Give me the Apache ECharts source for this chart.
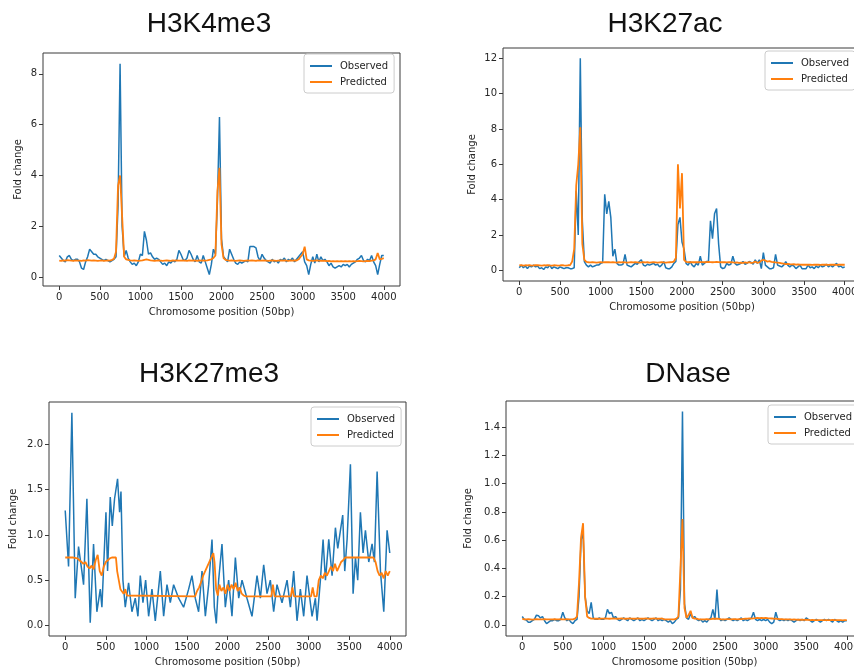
<!DOCTYPE html>
<html>
<head>
<meta charset="utf-8">
<script src="https://cdn.jsdelivr.net/npm/echarts@6/dist/echarts.min.js"></script>
<style>
html,body{margin:0;padding:0;background:#fff;}
#chart{width:854px;height:670px;}
</style>
</head>
<body>
<div id="chart"></div>
<script>
// ---------------- DATA ----------------
const TITLES = ['H3K4me3', 'H3K27ac', 'H3K27me3', 'DNase'];
const SERIES_NAMES = ['Observed', 'Predicted'];
const X_TICKS = [0, 500, 1000, 1500, 2000, 2500, 3000, 3500, 4000];
const Y_TICKS_H3K4ME3 = [0, 2, 4, 6, 8];
const Y_TICKS_H3K27AC = [0, 2, 4, 6, 8, 10, 12];
const Y_TICKS_H3K27ME3 = [0, 0.5, 1.0, 1.5, 2.0];
const Y_TICKS_DNASE = [0, 0.2, 0.4, 0.6, 0.8, 1.0, 1.2, 1.4];
const BIN_STEP = 25; // positions sampled every 25 bins: 0,25,...,4000

// H3K4me3 (positions 0..4000 step 25)
const h3k4me3Observed = [
0.85,0.75,0.65,0.6,0.8,0.85,0.7,0.65,0.7,0.7,
0.6,0.35,0.3,0.6,0.8,1.1,1.0,0.9,0.9,0.8,
0.75,0.7,0.65,0.7,0.65,0.6,0.65,0.7,0.8,2.8,
8.4,2.0,0.8,1.05,0.75,0.6,0.5,0.55,0.45,0.6,
0.9,0.85,1.8,1.45,0.9,0.95,0.8,0.7,0.75,0.7,
0.6,0.5,0.55,0.45,0.6,0.55,0.65,0.6,0.7,1.05,
0.9,0.7,0.65,0.75,1.05,0.9,0.7,0.6,0.85,0.6,
0.55,0.85,0.6,0.35,0.1,0.5,1.1,0.9,3.0,6.3,
1.5,0.8,0.7,0.6,1.1,0.9,0.7,0.55,0.5,0.6,
0.55,0.6,0.65,0.6,1.2,1.2,1.2,1.15,0.8,0.65,
0.9,0.75,0.65,0.6,0.55,0.7,0.6,0.65,0.55,0.7,
0.65,0.75,0.6,0.7,0.65,0.75,0.6,0.7,0.8,0.9,
1.0,0.6,0.45,0.1,0.5,0.8,0.55,0.9,0.6,0.8,
0.65,0.7,0.6,0.45,0.55,0.4,0.35,0.4,0.45,0.4,
0.5,0.45,0.5,0.4,0.5,0.55,0.6,0.7,0.75,0.85,
0.65,0.6,0.7,0.65,0.85,0.6,0.45,0.1,0.5,0.85,
0.85];
const h3k4me3Predicted = [
0.65,0.64,0.66,0.65,0.67,0.66,0.65,0.64,0.66,0.65,
0.65,0.64,0.66,0.65,0.67,0.66,0.65,0.66,0.65,0.64,
0.65,0.66,0.64,0.65,0.66,0.65,0.68,0.72,1.0,3.6,
4.0,2.4,0.8,0.7,0.68,0.66,0.65,0.66,0.65,0.64,
0.65,0.66,0.68,0.7,0.68,0.66,0.65,0.64,0.65,0.66,
0.65,0.64,0.65,0.66,0.65,0.64,0.66,0.65,0.66,0.65,
0.65,0.66,0.65,0.64,0.66,0.65,0.66,0.65,0.64,0.66,
0.65,0.66,0.65,0.66,0.68,0.7,0.75,0.85,3.4,4.3,
1.3,0.75,0.68,0.66,0.65,0.66,0.65,0.64,0.65,0.66,
0.65,0.64,0.65,0.66,0.65,0.66,0.65,0.64,0.66,0.65,
0.65,0.66,0.65,0.64,0.65,0.66,0.65,0.64,0.65,0.66,
0.65,0.66,0.65,0.64,0.66,0.65,0.66,0.65,0.7,0.8,
0.9,1.2,0.7,0.66,0.65,0.64,0.65,0.66,0.65,0.64,
0.65,0.64,0.63,0.64,0.62,0.63,0.62,0.63,0.62,0.63,
0.62,0.63,0.62,0.63,0.62,0.63,0.62,0.63,0.64,0.63,
0.62,0.63,0.64,0.63,0.65,0.66,0.7,0.95,0.7,0.72,
0.75];

// H3K27ac (positions 0..4000 step 25)
const h3k27acObserved = [
0.15,0.3,0.15,0.25,0.1,0.25,0.2,0.3,0.2,0.25,
0.1,0.15,0.05,0.2,0.15,0.3,0.1,0.2,0.15,0.1,
0.2,0.15,0.1,0.15,0.15,0.1,0.1,0.15,4.5,2.0,
12.0,2.8,0.5,0.3,0.2,0.3,0.2,0.25,0.3,0.3,
0.4,0.45,4.3,3.2,3.9,3.0,0.8,1.2,0.4,0.3,
0.3,0.35,0.9,0.3,0.25,0.2,0.3,0.4,0.35,0.5,
0.6,0.3,0.25,0.35,0.3,0.35,0.4,0.3,0.35,0.2,
0.3,0.5,0.15,0.1,0.1,0.2,0.4,0.5,2.6,3.0,
1.6,1.2,0.4,0.3,0.5,0.3,0.2,0.4,0.3,0.8,
0.3,0.4,0.5,0.5,2.8,1.8,3.2,3.5,1.5,0.2,
0.1,0.15,0.4,0.3,0.35,0.8,0.4,0.3,0.35,0.4,
0.5,0.35,0.4,0.5,0.45,0.35,0.6,0.4,0.6,0.1,
1.0,0.3,0.2,0.1,0.1,0.15,0.9,0.3,0.25,0.2,
0.3,0.5,0.3,0.2,0.3,0.25,0.1,0.2,0.3,0.1,
0.1,0.1,0.3,0.15,0.2,0.1,0.25,0.15,0.3,0.2,
0.25,0.35,0.2,0.3,0.2,0.3,0.4,0.2,0.25,0.15,
0.2];
const h3k27acPredicted = [
0.28,0.3,0.27,0.29,0.28,0.3,0.27,0.28,0.3,0.29,
0.28,0.27,0.29,0.28,0.3,0.28,0.27,0.29,0.28,0.27,
0.28,0.3,0.28,0.27,0.29,0.3,0.5,1.2,4.8,6.0,
8.1,1.5,0.6,0.48,0.46,0.45,0.46,0.45,0.44,0.45,
0.46,0.45,0.46,0.47,0.46,0.45,0.46,0.45,0.44,0.46,
0.45,0.46,0.45,0.44,0.45,0.46,0.45,0.46,0.45,0.44,
0.45,0.46,0.45,0.46,0.44,0.45,0.46,0.45,0.44,0.45,
0.46,0.45,0.44,0.45,0.46,0.47,0.5,0.7,6.0,3.5,
5.5,0.6,0.48,0.47,0.46,0.47,0.46,0.47,0.46,0.47,
0.47,0.46,0.47,0.48,0.47,0.46,0.47,0.48,0.47,0.46,
0.47,0.46,0.45,0.46,0.47,0.45,0.44,0.45,0.43,0.44,
0.42,0.45,0.43,0.47,0.42,0.44,0.5,0.43,0.45,0.55,
0.6,0.55,0.5,0.52,0.48,0.47,0.45,0.44,0.42,0.4,
0.38,0.36,0.37,0.35,0.34,0.35,0.33,0.34,0.33,0.32,
0.33,0.32,0.33,0.32,0.31,0.32,0.33,0.32,0.31,0.32,
0.33,0.32,0.31,0.32,0.33,0.32,0.31,0.32,0.33,0.32,
0.32];

// H3K27me3 (irregular positions, traced)
const h3k27me3ObservedPos = [
0,41,82,123,164,205,226,267,308,349,390,432,452,502,522,555,580,608,645,670,
687,711,740,781,822,863,896,925,958,991,1028,1069,1110,1172,1213,1254,1295,1336,1398,1459,
1521,1562,1603,1644,1686,1727,1768,1809,1838,1862,1891,1932,1973,2014,2055,2097,2138,2179,2240,2302,
2364,2405,2446,2487,2528,2569,2610,2672,2734,2775,2816,2857,2898,2939,2980,3042,3083,3104,3145,3178,
3207,3248,3289,3330,3359,3392,3420,3445,3474,3515,3548,3577,3605,3638,3671,3700,3741,3782,3811,3844,
3885,3926,3967,4000];
const h3k27me3Observed = [
1.27,0.65,2.35,0.3,0.87,0.6,0.45,1.4,0.03,0.9,0.15,0.4,0.2,1.25,0.6,1.42,1.1,1.4,1.62,1.25,
1.48,0.5,0.2,0.47,0.15,0.3,0.1,0.55,0.25,0.5,0.1,0.4,0.05,0.6,0.1,0.45,0.25,0.45,0.3,0.2,
0.4,0.55,0.3,0.15,0.6,0.1,0.45,0.95,0.2,0.02,0.5,0.9,0.2,0.5,0.1,0.75,0.3,0.5,0.3,0.1,
0.55,0.3,0.67,0.35,0.5,0.15,0.45,0.25,0.5,0.2,0.6,0.05,0.4,0.1,0.55,0.1,0.3,0.05,0.5,0.95,
0.5,0.95,0.55,1.08,0.85,1.05,1.22,0.6,0.95,1.78,0.35,0.75,0.5,1.25,0.8,1.05,0.7,0.9,0.7,1.7,
0.6,0.15,1.05,0.8];
const h3k27me3PredictedPos = [
0,50,100,150,175,200,225,250,275,300,325,350,375,400,425,450,475,500,525,550,
575,600,625,640,660,680,700,720,740,760,780,1600,1625,1650,1675,1700,1725,1750,1775,1800,
1825,1840,1860,1880,1900,1925,1950,1975,2000,2025,2050,2075,2100,2125,2150,2175,2200,2225,2540,2560,
2580,2780,2800,2820,3030,3050,3070,3100,3125,3150,3175,3200,3225,3250,3275,3300,3325,3350,3375,3400,
3425,3450,3800,3825,3850,3875,3900,3925,3950,3975,4000];
const h3k27me3Predicted = [
0.75,0.75,0.75,0.74,0.72,0.7,0.68,0.7,0.65,0.63,0.66,0.62,0.72,0.78,0.6,0.55,0.65,0.7,0.72,0.74,
0.75,0.75,0.75,0.6,0.5,0.4,0.38,0.35,0.4,0.33,0.32,0.32,0.38,0.42,0.48,0.55,0.6,0.65,0.7,0.75,
0.8,0.7,0.4,0.33,0.45,0.38,0.42,0.35,0.45,0.38,0.45,0.4,0.47,0.38,0.42,0.35,0.33,0.32,0.32,0.45,
0.32,0.32,0.42,0.32,0.32,0.42,0.32,0.32,0.5,0.55,0.52,0.58,0.55,0.6,0.65,0.6,0.68,0.6,0.65,0.7,
0.72,0.75,0.75,0.7,0.6,0.55,0.58,0.52,0.6,0.55,0.6];

// DNase (positions 0..4000 step 25)
const dnaseObserved = [
0.06,0.04,0.035,0.02,0.02,0.03,0.04,0.07,0.065,0.05,
0.06,0.03,0.01,0.02,0.03,0.03,0.04,0.03,0.03,0.04,
0.09,0.05,0.03,0.04,0.02,0.01,0.03,0.04,0.2,0.6,
0.65,0.2,0.1,0.08,0.16,0.05,0.04,0.04,0.05,0.04,
0.04,0.05,0.11,0.08,0.09,0.05,0.06,0.04,0.03,0.04,
0.05,0.04,0.03,0.05,0.04,0.03,0.04,0.05,0.03,0.04,
0.03,0.04,0.05,0.04,0.03,0.04,0.05,0.03,0.04,0.03,
0.04,0.03,0.02,0.03,0.01,0.02,0.04,0.05,0.25,1.51,
0.15,0.05,0.04,0.08,0.05,0.06,0.04,0.03,0.04,0.02,
0.03,0.02,0.04,0.05,0.11,0.04,0.25,0.05,0.03,0.04,
0.03,0.04,0.05,0.04,0.03,0.04,0.03,0.04,0.05,0.03,
0.04,0.03,0.04,0.05,0.09,0.04,0.03,0.04,0.03,0.04,
0.03,0.04,0.02,0.01,0.02,0.09,0.04,0.03,0.04,0.03,
0.04,0.03,0.04,0.03,0.02,0.03,0.04,0.03,0.04,0.03,
0.05,0.04,0.03,0.02,0.03,0.04,0.03,0.02,0.03,0.04,
0.03,0.04,0.03,0.02,0.04,0.03,0.02,0.03,0.02,0.03,
0.03];
const dnasePredicted = [
0.045,0.04,0.04,0.042,0.04,0.038,0.04,0.042,0.04,0.04,
0.04,0.041,0.04,0.039,0.04,0.04,0.041,0.04,0.04,0.042,
0.04,0.04,0.041,0.04,0.04,0.04,0.045,0.06,0.3,0.62,
0.72,0.2,0.06,0.05,0.045,0.045,0.044,0.045,0.044,0.045,
0.045,0.046,0.045,0.044,0.045,0.046,0.045,0.044,0.045,0.046,
0.045,0.044,0.045,0.046,0.045,0.044,0.045,0.046,0.045,0.044,
0.045,0.046,0.045,0.044,0.045,0.046,0.045,0.044,0.045,0.046,
0.04,0.04,0.04,0.04,0.04,0.04,0.045,0.06,0.4,0.75,
0.12,0.05,0.07,0.1,0.05,0.045,0.045,0.04,0.04,0.04,
0.04,0.041,0.04,0.042,0.045,0.044,0.045,0.043,0.04,0.04,
0.04,0.041,0.042,0.04,0.041,0.042,0.04,0.041,0.042,0.043,
0.044,0.045,0.046,0.045,0.047,0.048,0.05,0.048,0.05,0.049,
0.05,0.048,0.047,0.046,0.045,0.044,0.043,0.042,0.041,0.04,
0.04,0.039,0.04,0.038,0.039,0.038,0.037,0.038,0.037,0.036,
0.037,0.036,0.035,0.036,0.035,0.034,0.035,0.034,0.035,0.034,
0.035,0.034,0.035,0.036,0.035,0.034,0.035,0.034,0.033,0.034,
0.034];

// ---------------- BUILD ----------------
function gridPositions(n) { const a = []; for (let i = 0; i < n; i++) a.push(i * BIN_STEP); return a; }
function pairs(xs, ys) { return ys.map((y, i) => [xs[i], y]); }
const uniformPos = gridPositions(h3k4me3Observed.length);

const panels = [
  { obs: pairs(uniformPos, h3k4me3Observed), pred: pairs(uniformPos, h3k4me3Predicted), yTicks: Y_TICKS_H3K4ME3, ymin: -0.35, ymax: 8.82, fmt: v => String(v),
    grid: { left: 43, top: 53, width: 357, height: 233 }, yGap: 20, legend: { left: 304, top: 54 }, title: { x: 209, y: 24 } },
  { obs: pairs(uniformPos, h3k27acObserved), pred: pairs(uniformPos, h3k27acPredicted), yTicks: Y_TICKS_H3K27AC, ymin: -0.6, ymax: 12.58, fmt: v => String(v),
    grid: { left: 503, top: 48, width: 358, height: 233 }, yGap: 26, legend: { left: 765, top: 51 }, title: { x: 665, y: 24 } },
  { obs: pairs(h3k27me3ObservedPos, h3k27me3Observed), pred: pairs(h3k27me3PredictedPos, h3k27me3Predicted), yTicks: Y_TICKS_H3K27ME3, ymin: -0.118, ymax: 2.47, fmt: v => v.toFixed(1),
    grid: { left: 49, top: 402, width: 357, height: 234 }, yGap: 31, legend: { left: 311, top: 407 }, title: { x: 209, y: 374.5 } },
  { obs: pairs(uniformPos, dnaseObserved), pred: pairs(uniformPos, dnasePredicted), yTicks: Y_TICKS_DNASE, ymin: -0.078, ymax: 1.585, fmt: v => v.toFixed(1),
    grid: { left: 506, top: 401, width: 357, height: 235 }, yGap: 33, legend: { left: 768, top: 405 }, title: { x: 688, y: 374 } }
];

const TXT = '#262626';
const FONT = 'DejaVu Sans';
const BLUE = '#1f77b4', ORANGE = '#ff7f0e';

const option = {
  animation: false,
  backgroundColor: '#ffffff',
  grid: [], xAxis: [], yAxis: [], legend: [], series: [], graphic: []
};

panels.forEach((p, i) => {
  option.grid.push(Object.assign({ show: true, borderColor: '#3a3a3a', borderWidth: 1, backgroundColor: 'transparent', containLabel: false, outerBoundsMode: 'none' }, p.grid));
  option.xAxis.push({
    type: 'value', gridIndex: i, min: -200, max: 4200,
    name: 'Chromosome position (50bp)', nameLocation: 'middle', nameGap: 21,
    nameTextStyle: { fontFamily: FONT, fontSize: 10, color: TXT },
    axisLine: { show: false, onZero: false },
    axisTick: { show: true, length: 4, lineStyle: { color: '#3a3a3a' }, customValues: X_TICKS },
    axisLabel: { show: true, margin: 6, fontFamily: FONT, fontSize: 10, color: TXT, customValues: X_TICKS, formatter: v => String(v) },
    splitLine: { show: false }
  });
  option.yAxis.push({
    type: 'value', gridIndex: i, min: p.ymin, max: p.ymax,
    name: 'Fold change', nameLocation: 'middle', nameGap: p.yGap, nameRotate: 90,
    nameTextStyle: { fontFamily: FONT, fontSize: 10, color: TXT },
    axisLine: { show: false, onZero: false },
    axisTick: { show: true, length: 4, lineStyle: { color: '#3a3a3a' }, customValues: p.yTicks },
    axisLabel: { show: true, margin: 6, fontFamily: FONT, fontSize: 10, color: TXT, customValues: p.yTicks, formatter: p.fmt },
    splitLine: { show: false }
  });
  option.legend.push({
    data: SERIES_NAMES, orient: 'vertical', left: p.legend.left, top: p.legend.top,
    icon: 'rect', itemWidth: 22, itemHeight: 2, itemGap: 4, padding: [6, 6, 5, 6],
    backgroundColor: 'rgba(255,255,255,0.8)', borderColor: '#cccccc', borderWidth: 1, borderRadius: 3,
    selectedMode: false,
    textStyle: { fontFamily: FONT, fontSize: 10, lineHeight: 12, color: TXT, padding: [0, 0, 0, 3] }
  });
  option.series.push({
    name: SERIES_NAMES[0], type: 'line', xAxisIndex: i, yAxisIndex: i, data: p.obs,
    symbol: 'none', showSymbol: false, silent: true,
    lineStyle: { color: BLUE, width: 1.5 }, itemStyle: { color: BLUE }
  });
  option.series.push({
    name: SERIES_NAMES[1], type: 'line', xAxisIndex: i, yAxisIndex: i, data: p.pred,
    symbol: 'none', showSymbol: false, silent: true,
    lineStyle: { color: ORANGE, width: 1.8 }, itemStyle: { color: ORANGE }
  });
  option.graphic.push({
    type: 'text', x: p.title.x, y: p.title.y, silent: true,
    style: { text: TITLES[i], fill: '#111111', font: '28px "Liberation Sans", Arial, sans-serif', align: 'center', verticalAlign: 'middle' }
  });
});

const chart = echarts.init(document.getElementById('chart'), null, { renderer: 'canvas' });
chart.setOption(option);
</script>
</body>
</html>
